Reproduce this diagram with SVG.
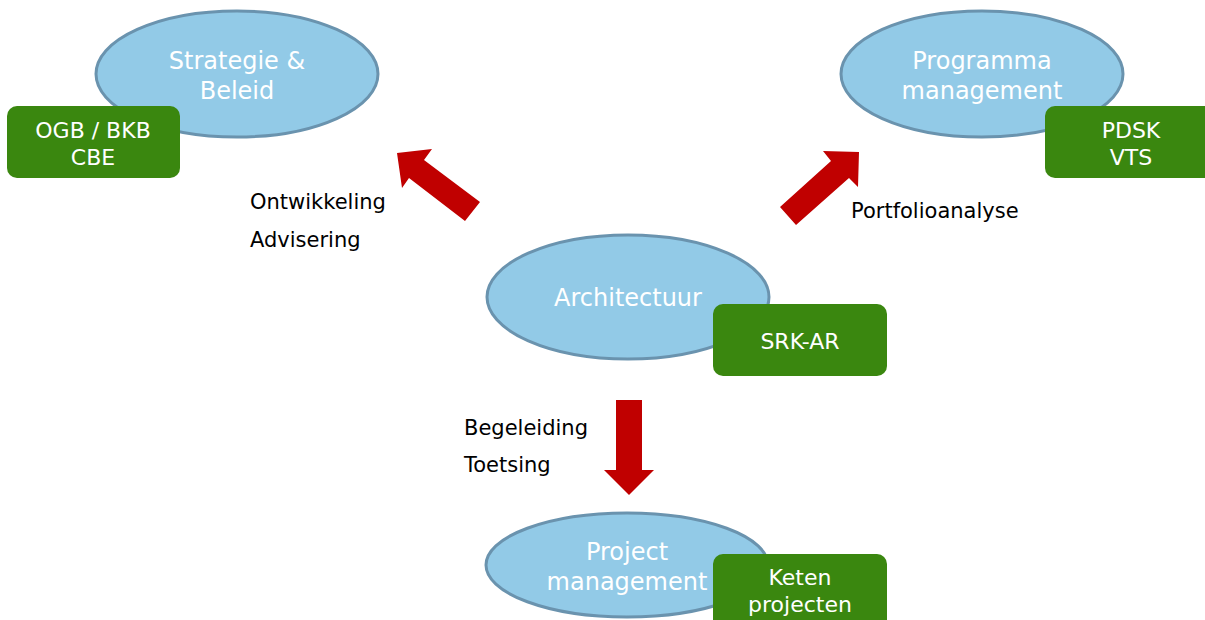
<svg xmlns="http://www.w3.org/2000/svg" width="1205" height="620" viewBox="0 0 1205 620">
<style>
.ell{fill:#92CAE7;stroke:#6A93AE;stroke-width:3}
.box{fill:#3A870F}
.et{font-family:"DejaVu Sans",Verdana,sans-serif;font-size:24px;fill:#ffffff;text-anchor:middle}
.bt{font-family:"DejaVu Sans",Verdana,sans-serif;font-size:22px;fill:#ffffff;text-anchor:middle}
.lt{font-family:"DejaVu Sans",Verdana,sans-serif;font-size:21px;fill:#000000}
.arr{fill:#C00000}
</style>
<rect width="1205" height="620" fill="#ffffff"/>
<g id="strategie">
<ellipse class="ell" cx="237" cy="74" rx="141" ry="63"/>
<text class="et" x="237" y="69">Strategie &amp;</text>
<text class="et" x="237" y="99">Beleid</text>
</g>
<g id="ogb">
<rect class="box" x="7" y="106" width="173" height="72" rx="10"/>
<text class="bt" x="93" y="138">OGB / BKB</text>
<text class="bt" x="93" y="165">CBE</text>
</g>
<g id="programma">
<ellipse class="ell" cx="982" cy="74" rx="141" ry="63"/>
<text class="et" x="982" y="69">Programma</text>
<text class="et" x="982" y="99">management</text>
</g>
<g id="pdsk">
<rect class="box" x="1045" y="106" width="175" height="72" rx="10"/>
<text class="bt" x="1131" y="138">PDSK</text>
<text class="bt" x="1131" y="165">VTS</text>
</g>
<g id="architectuur">
<ellipse class="ell" cx="628" cy="297" rx="141" ry="62"/>
<text class="et" x="628" y="306">Architectuur</text>
</g>
<g id="srk">
<rect class="box" x="713" y="304" width="174" height="72" rx="10"/>
<text class="bt" x="800" y="349">SRK-AR</text>
</g>
<g id="project">
<ellipse class="ell" cx="627" cy="565" rx="141" ry="52"/>
<text class="et" x="627" y="560">Project</text>
<text class="et" x="627" y="590">management</text>
</g>
<g id="keten">
<rect class="box" x="713" y="554" width="174" height="80" rx="10"/>
<text class="bt" x="800" y="585">Keten</text>
<text class="bt" x="800" y="612">projecten</text>
</g>
<g id="connectors">
<polygon class="arr" points="397,153 432,149 424,160 480,202 465,221 409,178 402,188"/>
<polygon class="arr" points="859,152 858,187 849,178 796,225 780,207 831,161 823,151"/>
<polygon class="arr" points="616,400 642,400 642,470 654,470 629,495 604,470 616,470"/>
</g>
<g id="labels">
<text class="lt" x="250" y="209">Ontwikkeling</text>
<text class="lt" x="250" y="247">Advisering</text>
<text class="lt" x="851" y="218">Portfolioanalyse</text>
<text class="lt" x="464" y="435">Begeleiding</text>
<text class="lt" x="464" y="472">Toetsing</text>
</g>
</svg>
